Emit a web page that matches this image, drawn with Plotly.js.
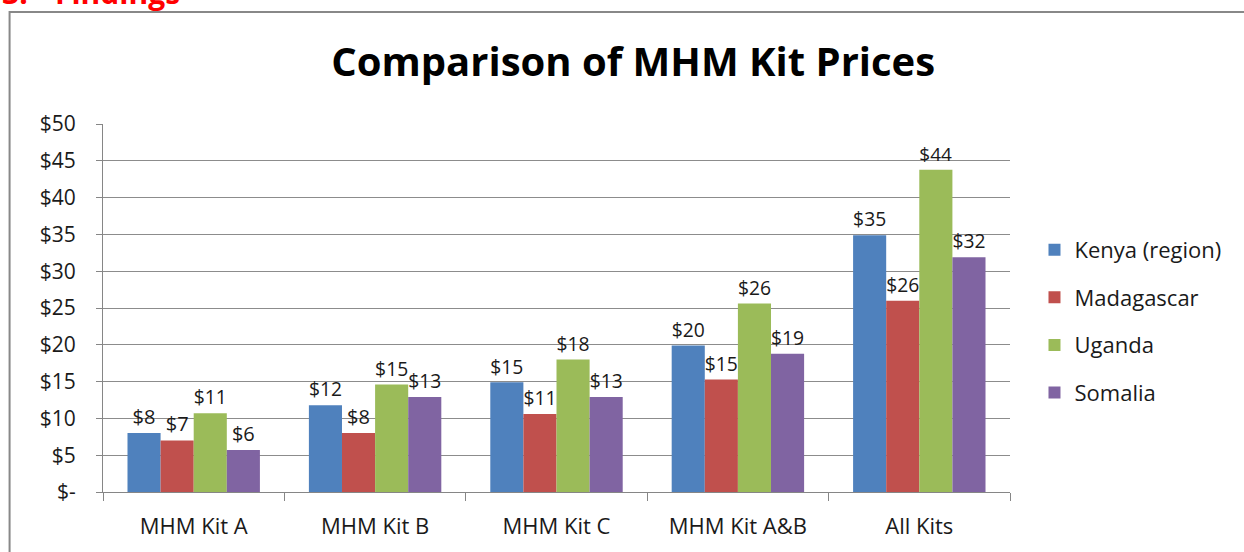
<!DOCTYPE html>
<html>
<head>
<meta charset="utf-8">
<script src="https://cdn.plot.ly/plotly-3.0.1.min.js"></script>
<style>
  html, body { margin: 0; padding: 0; background: #fff; overflow: hidden; }
  #chart { width: 1244px; height: 552px; }
</style>
</head>
<body>
<div id="chart"></div>
<script>
const categories = ["MHM Kit A", "MHM Kit B", "MHM Kit C", "MHM Kit A&B", "All Kits"];
const kenya      = [8.0, 11.8, 14.9, 19.9, 34.9];
const madagascar = [7.0, 8.0, 10.6, 15.3, 26.0];
const uganda     = [10.7, 14.6, 18.0, 25.6, 43.8];
const somalia    = [5.7, 12.9, 12.9, 18.8, 31.9];
const seriesNames = ["Kenya (region)", "Madagascar", "Uganda", "Somalia"];
const yTickVals = [0, 5, 10, 15, 20, 25, 30, 35, 40, 45, 50];
const yTickText = ["$-", "$5", "$10", "$15", "$20", "$25", "$30", "$35", "$40", "$45", "$50"];

const colors = ["#4F81BD", "#C0504D", "#9BBB59", "#8064A2"];
const FONT = "Open Sans, Lato, sans-serif";
const allSeries = [kenya, madagascar, uganda, somalia];

const traces = allSeries.map((vals, i) => ({
  type: "bar",
  name: seriesNames[i],
  x: categories,
  y: vals,
  marker: { color: colors[i] },
  texttemplate: "$%{y:.0f}",
  textposition: "outside",
  cliponaxis: false,
  textfont: { family: FONT, size: 20, color: "#1a1a1a" },
  legendgroup: "g" + i,
  hoverinfo: "x+y+name"
}));

const layout = {
  width: 1244,
  height: 552,
  margin: { l: 103, r: 234, t: 124, b: 60 },
  paper_bgcolor: "#ffffff",
  plot_bgcolor: "#ffffff",
  barmode: "group",
  bargap: 0.27,
  bargroupgap: 0,
  title: {
    text: "<b>Comparison of MHM Kit Prices</b>",
    font: { family: FONT, size: 40, color: "#000" },
    x: 0.509, xanchor: "center",
    y: 0.887, yanchor: "middle"
  },
  xaxis: {
    type: "category",
    tickson: "boundaries",
    ticks: "outside",
    ticklen: 8,
    tickcolor: "#868686",
    showline: true,
    linecolor: "#868686",
    linewidth: 1,
    ticklabelstandoff: 15,
    tickfont: { family: FONT, size: 22, color: "#1a1a1a" },
    showgrid: false
  },
  yaxis: {
    range: [0, 50],
    tickvals: yTickVals,
    ticktext: yTickText,
    ticks: "outside",
    ticklen: 6,
    tickcolor: "#868686",
    showline: true,
    linecolor: "#868686",
    showgrid: true,
    gridcolor: "#8c8c8c",
    gridwidth: 1,
    zeroline: false,
    ticklabelstandoff: 16,
    tickfont: { family: FONT, size: 21, color: "#1a1a1a" }
  },
  legend: {
    x: 1.027, xanchor: "left",
    y: 0.715, yanchor: "top",
    font: { family: FONT, size: 22, color: "#1a1a1a" },
    traceorder: "grouped",
    tracegroupgap: 16,
    itemwidth: 30
  },
  annotations: [{
    text: "<b>3.</b>",
    xref: "paper", yref: "paper",
    x: -0.1136, xanchor: "left",
    y: 1.357, yanchor: "middle",
    showarrow: false,
    font: { family: FONT, size: 30, color: "#ff0000" }
  }, {
    text: "<b>Findings</b>",
    xref: "paper", yref: "paper",
    x: -0.0551, xanchor: "left",
    y: 1.357, yanchor: "middle",
    showarrow: false,
    font: { family: FONT, size: 30, color: "#ff0000" }
  }],
  shapes: [{
    type: "rect",
    xref: "paper", yref: "paper",
    x0: -0.103, x1: 1.30,
    y0: -0.2, y1: 1.3045,
    line: { color: "#888888", width: 2 },
    fillcolor: "rgba(0,0,0,0)",
    layer: "below"
  }],
  showlegend: true
};

Plotly.newPlot("chart", traces, layout, { displayModeBar: false, staticPlot: true });
</script>
</body>
</html>
